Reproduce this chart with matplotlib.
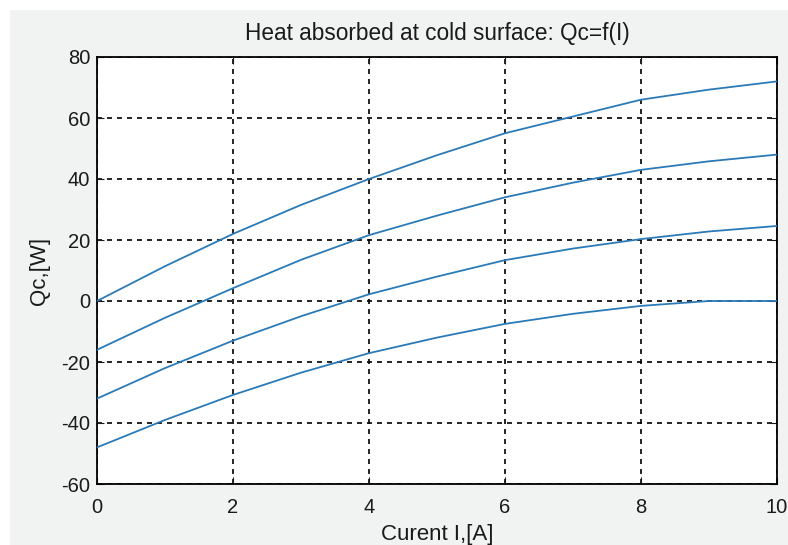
import numpy as np
import matplotlib.pyplot as plt
from matplotlib.patches import Rectangle

# Current values [A]
current = [0, 1, 2, 3, 4, 5, 6, 7, 8, 9, 10]

# Qc values [W], one list per curve
qc_1 = [0, 11.4, 22.0, 31.5, 40.0, 47.8, 55.0, 60.5, 66.0, 69.3, 72.0]
qc_2 = [-16, -5.5, 4.2, 13.5, 21.6, 28.0, 34.0, 38.8, 43.0, 45.8, 48.0]
qc_3 = [-32, -22.0, -13.0, -5.0, 2.2, 8.0, 13.4, 17.2, 20.3, 22.8, 24.6]
qc_4 = [-48, -39.0, -30.8, -23.5, -17.1, -12.0, -7.5, -4.2, -1.6, 0.0, 0.0]

xticks = [0, 2, 4, 6, 8, 10]
yticks = [-60, -40, -20, 0, 20, 40, 60, 80]

plt.rcParams['font.family'] = ['Liberation Sans', 'DejaVu Sans']
plt.rcParams['axes.unicode_minus'] = False  # plain hyphen like the original

fig = plt.figure(figsize=(7.88, 5.45), dpi=100, facecolor='white')
# gray figure panel (white strip at top and left like the screenshot)
fig.patches.append(Rectangle((10 / 788, 0), 1, 1 - 10 / 545, transform=fig.transFigure,
                             facecolor='#f1f2f2', edgecolor='none', zorder=-10))

ax = fig.add_axes([97 / 788, 1 - 484 / 545, 680 / 788, 427 / 545])
ax.set_facecolor('white')

for q in (qc_1, qc_2, qc_3, qc_4):
    ax.plot(current, q, color='#2a7ab8', linewidth=1.3, zorder=3)

ax.set_xlim(0, 10)
ax.set_ylim(-60, 80)
ax.set_xticks(xticks)
ax.set_yticks(yticks)
ax.grid(True, color='black', linestyle=(0, (3, 3)), linewidth=1.2)
ax.tick_params(direction='in', length=5, top=True, right=True, labelsize=14.5,
               colors='#1a1a1a')
ax.tick_params(axis='x', pad=10)
ax.tick_params(axis='y', pad=5)
for s in ax.spines.values():
    s.set_linewidth(1.3)

ax.set_title('Heat absorbed at cold surface: Qc=f(I)', fontsize=16.3, pad=12,
             color='#1a1a1a')
ax.set_xlabel('Curent I,[A]', fontsize=16, labelpad=5, color='#1a1a1a')
ax.set_ylabel('Qc,[W]', fontsize=16, labelpad=8, color='#1a1a1a')

fig.savefig('out.png', dpi=100, facecolor=fig.get_facecolor())
